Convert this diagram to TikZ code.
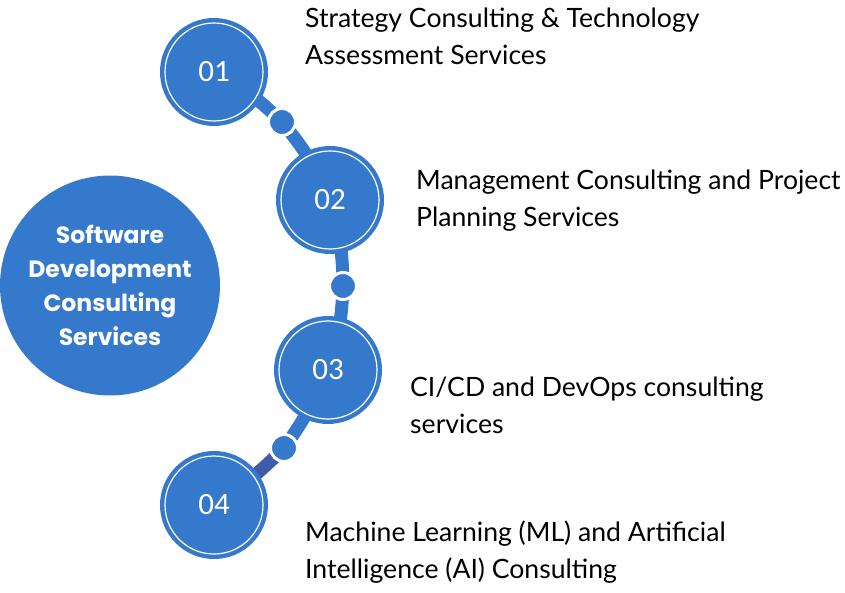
\documentclass[tikz,border=0pt]{standalone}
\usepackage{fontspec}
\setmainfont{Lato}
\newfontfamily\popfont{Poppins}
\newfontfamily\numfont{Carlito}
\definecolor{mainblue}{HTML}{3579CC}
\definecolor{darkblue}{HTML}{3F5BAA}
\begin{document}
\begin{tikzpicture}[x=1pt,y=1pt,
  stepcircle/.style={circle,fill=mainblue,minimum size=108pt,inner sep=0pt,text=white,font=\numfont\fontsize{31}{31}\selectfont},
  ring/.style={draw=white,line width=1.2pt},
  dot/.style={circle,fill=mainblue,draw=white,line width=3pt,minimum size=27pt,inner sep=0pt},
  label/.style={anchor=west,align=left,inner sep=0pt,font=\fontsize{26.6}{37}\selectfont},
  bar/.style={line width=13pt,mainblue}]
\useasboundingbox (0,0) rectangle (845,592);
\coordinate (c1) at (214,520);
\coordinate (c2) at (330,392);
\coordinate (c3) at (328,222);
\coordinate (c4) at (214,87);
\coordinate (p1) at (282,470);
\coordinate (p2) at (343,306);
\coordinate (p3) at (284,144);
% bars
\draw[bar] (c1) to[bend left=8] (p1) to[bend left=8] (c2);
\draw[bar] (c2) to[bend left=8] (p2) to[bend left=8] (c3);
\draw[bar] (c3) to[bend left=6] (p3);
\draw[bar,darkblue] (p3) to[bend left=6] (c4);
% main circle
\node[circle,fill=mainblue,minimum size=220pt,inner sep=0pt,text=white,align=center,
  font=\popfont\bfseries\fontsize{23.5}{34}\selectfont] (main) at (110,306.5)
  {Software\\Development\\Consulting\\Services};
% step circles
\node[stepcircle] (s1) at (c1) {01};
\node[stepcircle] (s2) at (c2) {02};
\node[stepcircle] (s3) at (c3) {03};
\node[stepcircle] (s4) at (c4) {04};
\foreach \n in {s1,s2,s3,s4} \draw[ring] (\n.center) circle[radius=49pt];
% dots
\node[dot] (d1) at (p1) {};
\node[dot] (d2) at (p2) {};
\node[dot] (d3) at (p3) {};
% labels
\node[label] (t1) at (305,555.5) {Strategy Consulting \& Technology\\Assessment Services};
\node[label] (t2) at (416,391) {Management Consulting and Project\\Planning Services};
\node[label] (t3) at (410,187) {CI/CD and DevOps consulting\\services};
\node[label] (t4) at (305,39.5) {Machine Learning (ML) and Artificial\\Intelligence (AI) Consulting};
\end{tikzpicture}
\end{document}
